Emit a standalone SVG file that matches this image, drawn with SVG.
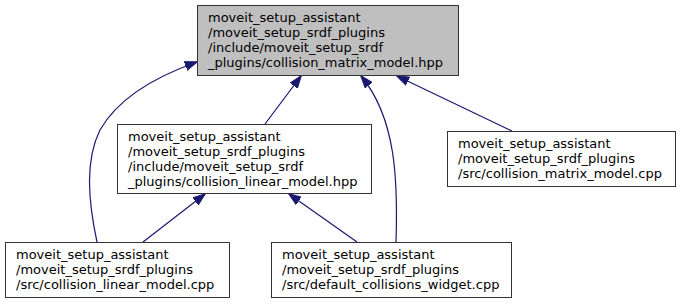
<svg xmlns="http://www.w3.org/2000/svg" width="681" height="304" viewBox="0 0 681 304">
  <style>
    .node rect { fill: #ffffff; stroke: #333333; stroke-width: 1; }
    .node.focus rect { fill: #bfbfbf; }
    .node text { font-family: "DejaVu Sans", "Liberation Sans", sans-serif; font-size: 13px; fill: #000000; }
    .edge { fill: none; stroke: #191970; stroke-width: 1.2; marker-end: url(#head); }
  </style>
  <defs>
    <marker id="head" markerUnits="userSpaceOnUse" markerWidth="13" markerHeight="10" refX="12" refY="5" orient="auto">
      <path d="M0,0.5 L12.5,5 L0,9.5 z" fill="#191970" stroke="#191970" stroke-width="1"/>
    </marker>
  </defs>
  <rect width="681" height="304" fill="#ffffff"/>

  <!-- connectors: each path runs from the including file up to the included header -->
  <g id="edges">
    <path class="edge" d="M97,242 C88,200 85,160 100,130 C120,95 160,75 197,62"/>
    <path class="edge" d="M265,124 L301,76"/>
    <path class="edge" d="M396,242 C398,180 396,118 361,76"/>
    <path class="edge" d="M512,131 L397,76"/>
    <path class="edge" d="M143,242 L205,194"/>
    <path class="edge" d="M357,242 L289,194"/>
  </g>

  <g id="node-collision-matrix-model-hpp" class="node focus">
    <rect x="197.5" y="5.5" width="261" height="70"/>
    <text x="208" y="22">moveit_setup_assistant</text>
    <text x="208" y="37">/moveit_setup_srdf_plugins</text>
    <text x="208" y="52">/include/moveit_setup_srdf</text>
    <text x="208" y="67">_plugins/collision_matrix_model.hpp</text>
  </g>

  <g id="node-collision-linear-model-hpp" class="node">
    <rect x="117.5" y="124.5" width="254" height="69"/>
    <text x="128" y="141">moveit_setup_assistant</text>
    <text x="128" y="156">/moveit_setup_srdf_plugins</text>
    <text x="128" y="171">/include/moveit_setup_srdf</text>
    <text x="128" y="186">_plugins/collision_linear_model.hpp</text>
  </g>

  <g id="node-collision-matrix-model-cpp" class="node">
    <rect x="447.5" y="131.5" width="228" height="55"/>
    <text x="458" y="148">moveit_setup_assistant</text>
    <text x="458" y="163">/moveit_setup_srdf_plugins</text>
    <text x="458" y="178">/src/collision_matrix_model.cpp</text>
  </g>

  <g id="node-collision-linear-model-cpp" class="node">
    <rect x="5.5" y="242.5" width="224" height="55"/>
    <text x="16" y="259">moveit_setup_assistant</text>
    <text x="16" y="274">/moveit_setup_srdf_plugins</text>
    <text x="16" y="289">/src/collision_linear_model.cpp</text>
  </g>

  <g id="node-default-collisions-widget-cpp" class="node">
    <rect x="271.5" y="242.5" width="240" height="55"/>
    <text x="282" y="259">moveit_setup_assistant</text>
    <text x="282" y="274">/moveit_setup_srdf_plugins</text>
    <text x="282" y="289">/src/default_collisions_widget.cpp</text>
  </g>
</svg>
